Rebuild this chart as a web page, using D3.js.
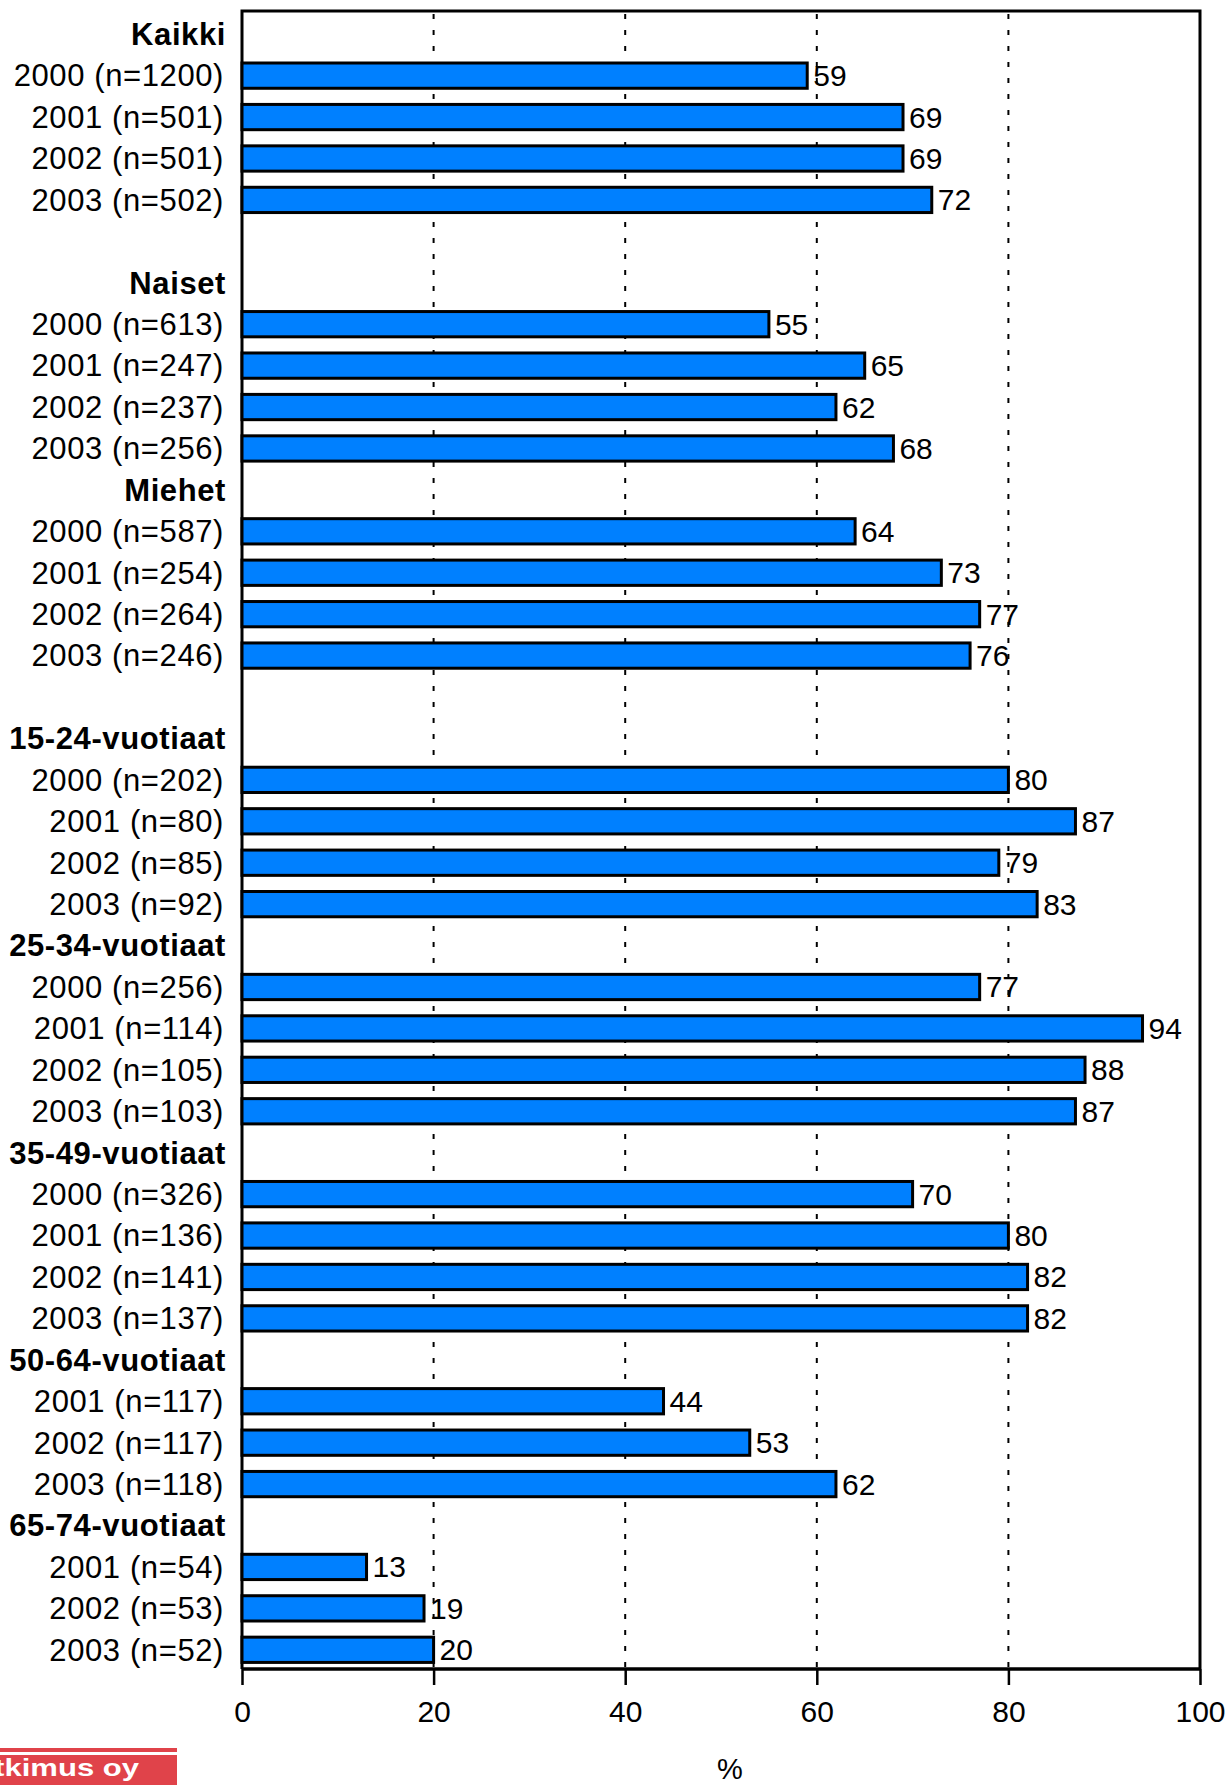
<!DOCTYPE html>
<html>
<head>
<meta charset="utf-8">
<script src="https://cdn.jsdelivr.net/npm/d3@7"></script>
<style>
  html, body { margin: 0; padding: 0; background: #fff; }
  svg { display: block; }
  text { font-family: "Liberation Sans", Arial, Helvetica, sans-serif; }
</style>
</head>
<body>
<svg id="chart" width="1229" height="1785"></svg>
<script>
// Row labels (empty string = blank spacer row)
const categories = [
  "Kaikki", "2000 (n=1200)", "2001 (n=501)", "2002 (n=501)", "2003 (n=502)",
  "",
  "Naiset", "2000 (n=613)", "2001 (n=247)", "2002 (n=237)", "2003 (n=256)",
  "Miehet", "2000 (n=587)", "2001 (n=254)", "2002 (n=264)", "2003 (n=246)",
  "",
  "15-24-vuotiaat", "2000 (n=202)", "2001 (n=80)", "2002 (n=85)", "2003 (n=92)",
  "25-34-vuotiaat", "2000 (n=256)", "2001 (n=114)", "2002 (n=105)", "2003 (n=103)",
  "35-49-vuotiaat", "2000 (n=326)", "2001 (n=136)", "2002 (n=141)", "2003 (n=137)",
  "50-64-vuotiaat", "2001 (n=117)", "2002 (n=117)", "2003 (n=118)",
  "65-74-vuotiaat", "2001 (n=54)", "2002 (n=53)", "2003 (n=52)"
];
// Values (null = header or spacer row)
const values = [
  null, 59, 69, 69, 72,
  null,
  null, 55, 65, 62, 68,
  null, 64, 73, 77, 76,
  null,
  null, 80, 87, 79, 83,
  null, 77, 94, 88, 87,
  null, 70, 80, 82, 82,
  null, 44, 53, 62,
  null, 13, 19, 20
];
const xTicks = [0, 20, 40, 60, 80, 100];
const axisTitle = "%";
const logoText = "Taloustutkimus oy";

(function () {
const svg = d3.select("#chart");
const pLeft = 242, pRight = 1200, pTop = 11, pBottom = 1669;

const x = d3.scaleLinear().domain([0, 100]).range([pLeft, pRight]);
const y = d3.scaleBand().domain(d3.range(categories.length)).range([pTop + 2.5, pBottom + 1.5]).padding(0);

// Grid lines (dashed)
svg.append("g").selectAll("line")
  .data(xTicks.filter(t => t > 0 && t < 100))
  .join("line")
  .attr("x1", d => x(d)).attr("x2", d => x(d))
  .attr("y1", pTop + 3).attr("y2", pBottom)
  .attr("stroke", "#000").attr("stroke-width", 2)
  .attr("stroke-dasharray", "5,11");

// Frame: top, right, left
svg.append("path")
  .attr("d", `M${pLeft},${pBottom} V${pTop} H${pRight} V${pBottom}`)
  .attr("fill", "none").attr("stroke", "#000").attr("stroke-width", 3);

// Bars
const rows = categories.map((c, i) => ({ i, label: c, value: values[i] }));
const barH = y.bandwidth() * 0.61;
svg.append("g").selectAll("rect")
  .data(rows.filter(d => d.value !== null))
  .join("rect")
  .attr("x", x(0))
  .attr("y", d => y(d.i) + (y.bandwidth() - barH) / 2)
  .attr("width", d => x(d.value) - x(0))
  .attr("height", barH)
  .attr("fill", "#0080FF")
  .attr("stroke", "#000").attr("stroke-width", 3);

// Value labels
svg.append("g").selectAll("text")
  .data(rows.filter(d => d.value !== null))
  .join("text")
  .attr("x", d => x(d.value) + 6)
  .attr("y", d => y(d.i) + y.bandwidth() / 2)
  .attr("dy", "0.35em")
  .attr("font-size", 30)
  .attr("fill", "#000")
  .text(d => d.value);

// Row labels
svg.append("g").selectAll("text")
  .data(rows.filter(d => d.label !== ""))
  .join("text")
  .attr("x", d => d.value === null ? 226 : 224)
  .attr("y", d => y(d.i) + y.bandwidth() / 2)
  .attr("dy", "0.35em")
  .attr("text-anchor", "end")
  .attr("font-size", 31)
  .attr("letter-spacing", 0.6)
  .attr("font-weight", d => d.value === null ? "bold" : "normal")
  .attr("fill", "#000")
  .text(d => d.label);

// Bottom axis
const axis = d3.axisBottom(x).tickValues(xTicks).tickSize(16).tickPadding(16).tickFormat(d3.format("d"));
const gx = svg.append("g").attr("transform", `translate(0,${pBottom})`).call(axis);
gx.select(".domain").attr("stroke", "#000").attr("stroke-width", 3.5)
  .attr("d", `M${pLeft},0H${pRight}`);
gx.selectAll(".tick line").attr("stroke", "#000").attr("stroke-width", 2.5);
gx.selectAll(".tick text")
  .attr("font-family", "'Liberation Sans', Arial, sans-serif")
  .attr("font-size", 30).attr("fill", "#000");

// Axis title
svg.append("text")
  .attr("x", 730).attr("y", 1779)
  .attr("text-anchor", "middle")
  .attr("font-size", 29).attr("fill", "#000")
  .text(axisTitle);

// Logo (cut off at left edge, as in the source image)
svg.append("rect").attr("x", 0).attr("y", 1748).attr("width", 177).attr("height", 4).attr("fill", "#E0434A");
svg.append("rect").attr("x", 0).attr("y", 1755).attr("width", 177).attr("height", 30).attr("fill", "#E0434A");
svg.append("g").attr("transform", "translate(139,1776) scale(1.35,1)")
  .append("text")
  .attr("text-anchor", "end")
  .attr("font-size", 23).attr("font-weight", "bold")
  .attr("fill", "#fff")
  .text(logoText);
})();
</script>
</body>
</html>
